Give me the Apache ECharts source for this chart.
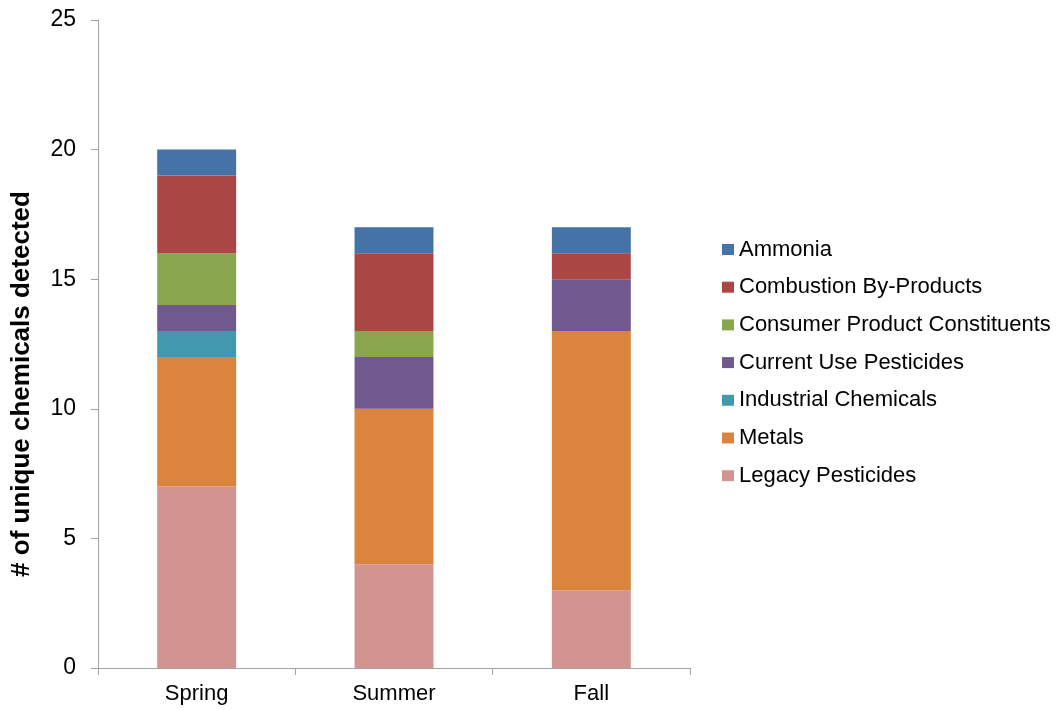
<!DOCTYPE html>
<html>
<head>
<meta charset="utf-8">
<script src="https://cdn.jsdelivr.net/npm/echarts@6/dist/echarts.min.js"></script>
<style>
  html, body { margin: 0; padding: 0; background: #fff; }
  #chart { width: 1059px; height: 710px; }
</style>
</head>
<body>
<div id="chart"></div>
<script>
// Seasons on the x axis
const seasons = ['Spring', 'Summer', 'Fall'];

// Number of unique chemicals detected per class, stacked bottom to top
const legacyPesticides = [7, 4, 3];
const metals = [5, 6, 10];
const industrialChemicals = [1, 0, 0];
const currentUsePesticides = [1, 2, 2];
const consumerProductConstituents = [2, 1, 0];
const combustionByProducts = [3, 3, 1];
const ammonia = [1, 1, 1];

const yTicks = [0, 5, 10, 15, 20, 25];
const yTitle = '# of unique chemicals detected';

const stackOrder = [
  { name: 'Legacy Pesticides', data: legacyPesticides, color: '#D39391' },
  { name: 'Metals', data: metals, color: '#DB843D' },
  { name: 'Industrial Chemicals', data: industrialChemicals, color: '#4198AF' },
  { name: 'Current Use Pesticides', data: currentUsePesticides, color: '#71588F' },
  { name: 'Consumer Product Constituents', data: consumerProductConstituents, color: '#89A54E' },
  { name: 'Combustion By-Products', data: combustionByProducts, color: '#AA4643' },
  { name: 'Ammonia', data: ammonia, color: '#4572A7' }
];

const font = '"Liberation Sans", Arial, sans-serif';
const axisGrey = '#A3A3A3';

const chart = echarts.init(document.getElementById('chart'), null, { renderer: 'canvas' });

chart.setOption({
  animation: false,
  backgroundColor: '#ffffff',
  grid: { left: 98, right: 369, top: 20, bottom: 42, containLabel: false, outerBoundsMode: 'none' },
  legend: {
    orient: 'vertical',
    left: 722,
    top: 238.5,
    padding: 0,
    itemWidth: 12,
    itemHeight: 11,
    itemGap: 15.7,
    icon: 'rect',
    data: stackOrder.map(s => s.name).reverse(),
    textStyle: { fontFamily: font, fontSize: 22, lineHeight: 22, color: '#000' }
  },
  graphic: [{
    type: 'text',
    x: 22,
    y: 384,
    rotation: Math.PI / 2,
    style: {
      text: yTitle,
      fontFamily: font,
      fontSize: 26,
      fontWeight: 'bold',
      fill: '#000',
      align: 'center',
      verticalAlign: 'middle'
    }
  }],
  xAxis: {
    type: 'category',
    data: seasons,
    boundaryGap: true,
    axisLine: { lineStyle: { color: axisGrey, width: 1 } },
    axisTick: { show: true, length: 7, alignWithLabel: false, lineStyle: { color: axisGrey } },
    axisLabel: { fontFamily: font, fontSize: 22, color: '#000', margin: 15 }
  },
  yAxis: {
    type: 'value',
    min: yTicks[0],
    max: yTicks[yTicks.length - 1],
    interval: 5,
    axisLine: { show: true, lineStyle: { color: axisGrey, width: 1 } },
    axisTick: { show: true, length: 7, lineStyle: { color: axisGrey } },
    splitLine: { show: false },
    axisLabel: { fontFamily: font, fontSize: 23, color: '#000', margin: 22 }
  },
  series: stackOrder.map(s => ({
    name: s.name,
    type: 'bar',
    stack: 'total',
    barWidth: '40%',
    data: s.data,
    itemStyle: { color: s.color },
    emphasis: { disabled: true }
  }))
});
</script>
</body>
</html>
